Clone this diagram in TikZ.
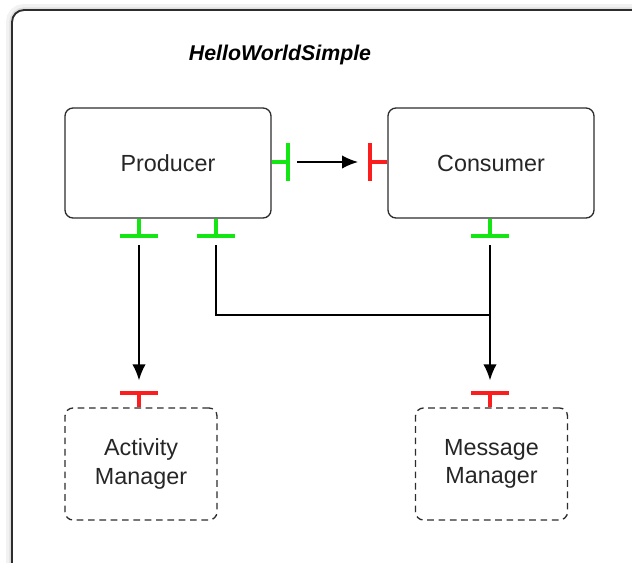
\documentclass[tikz,border=0pt]{standalone}
\usepackage{fontspec}
\setmainfont{Liberation Sans}
\usetikzlibrary{arrows.meta}

\definecolor{portgreen}{RGB}{20,230,20}
\definecolor{portred}{RGB}{250,30,30}
\definecolor{boxline}{RGB}{45,45,45}

\tikzset{
  comp/.style={draw=boxline, line width=1pt, rounded corners=6pt, fill=white,
    minimum width=154.5pt, minimum height=82.5pt, align=center,
    text=black!85, font=\fontsize{17.5}{21.5}\selectfont},
  extcomp/.style={comp, dash pattern=on 5pt off 3.5pt,
    minimum width=114pt, minimum height=84pt},
  provided/.style={draw=portgreen, line width=2.8pt},
  required/.style={draw=portred, line width=2.8pt},
  link/.style={draw=black, line width=1.1pt},
  linkarrow/.style={link, -{Latex[length=12pt,width=10pt]}}
}

\begin{document}
\begin{tikzpicture}[x=0.75pt,y=0.75pt,yscale=-1,xscale=1]
\useasboundingbox (0,0) rectangle (632,562);

%Outer frame with a soft shadow
\draw [black, opacity=0.05, line width=9pt, rounded corners=9pt] (12,10) rectangle (650,580);
\draw [black, opacity=0.08, line width=4pt, rounded corners=9pt] (12,10) rectangle (650,580);
\draw [boxline, line width=1.4pt, fill=white, rounded corners=9pt] (12,10) rectangle (650,580);

% Title
\node (title) at (280,55) {\fontsize{16}{19}\selectfont\bfseries\itshape HelloWorldSimple};

% Components
\node [comp] (producer) at (168,163) {Producer};
\node [comp] (consumer) at (491,163) {Consumer};
\node [extcomp] (activity) at (141,464) {Activity\\Manager};
\node [extcomp] (message) at (491.5,464) {Message\\Manager};

% Port coordinates
\coordinate (prodR) at (288,162);
\coordinate (consL) at (370,162);
\coordinate (prodB1) at (139,236);
\coordinate (prodB2) at (216,236);
\coordinate (consB) at (490,236);
\coordinate (actT) at (139,393);
\coordinate (msgT) at (490,393);
\coordinate (join) at (490,315);

% Provided ports
\draw [provided] (producer.east |- prodR) -- (prodR);
\draw [provided] (288,143) -- (288,181);
\draw [provided] (producer.south -| prodB1) -- (prodB1);
\draw [provided] (120,236) -- (158,236);
\draw [provided] (producer.south -| prodB2) -- (prodB2);
\draw [provided] (197,236) -- (235,236);
\draw [provided] (consumer.south -| consB) -- (consB);
\draw [provided] (471,236) -- (509,236);

% Required ports
\draw [required] (consumer.west |- consL) -- (consL);
\draw [required] (370,143) -- (370,181);
\draw [required] (activity.north -| actT) -- (actT);
\draw [required] (120,393) -- (158,393);
\draw [required] (message.north -| msgT) -- (msgT);
\draw [required] (471,393) -- (509,393);

% Connectors
\draw [linkarrow, shorten <=7pt, shorten >=9pt] (prodR) -- (consL);
\draw [linkarrow, shorten <=7pt, shorten >=9.5pt] (prodB1) -- (actT);
\draw [linkarrow, shorten <=7pt, shorten >=9.5pt] (consB) -- (msgT);
\draw [link, shorten <=7pt] (prodB2) |- (join);

\end{tikzpicture}
\end{document}
